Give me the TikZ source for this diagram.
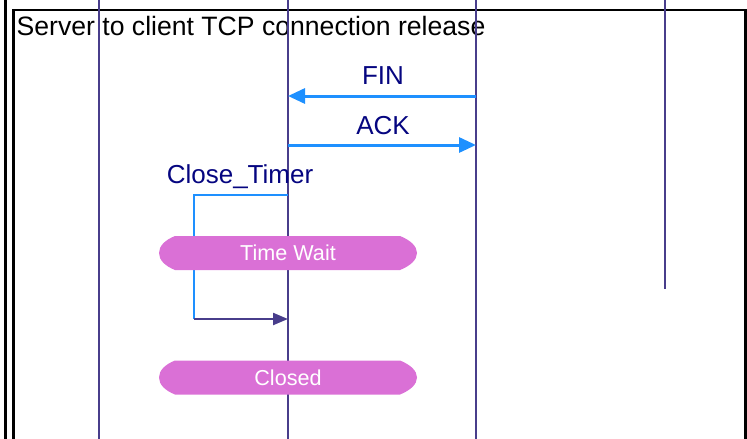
\documentclass[tikz,border=0pt]{standalone}
\usepackage{fontspec}
\setmainfont{Liberation Sans}
\usetikzlibrary{arrows.meta}
\definecolor{lifeblue}{RGB}{72,61,139}
\definecolor{msgblue}{RGB}{30,144,255}
\definecolor{labnavy}{RGB}{5,5,128}
\definecolor{stateorchid}{RGB}{218,112,214}
\begin{document}
\begin{tikzpicture}[x=1pt,y=-1pt,
  life/.style={lifeblue,line width=1.9pt},
  msg/.style={msgblue,line width=3pt,-{Triangle[length=17pt,width=15pt]}},
  lab/.style={labnavy,font=\fontsize{26}{28}\selectfont},
  statetxt/.style={white,font=\fontsize{21.6}{23}\selectfont}]
\useasboundingbox (0,0) rectangle (747,439);
% frame
\draw[line width=2.6pt] (5.5,0) -- (5.5,439);
\draw[line width=2.6pt] (13.5,439) -- (13.5,10) -- (745.5,10) -- (745.5,439);
\node[anchor=base west,inner sep=0pt,font=\fontsize{26.6}{28}\selectfont] (title) at (16.5,35) {Server to client TCP connection release};
% lifelines
\coordinate (l1top) at (99,0);  \coordinate (l1bot) at (99,439);
\coordinate (l2top) at (288,0); \coordinate (l2bot) at (288,439);
\coordinate (l3top) at (476,0); \coordinate (l3bot) at (476,439);
\coordinate (l4top) at (665,0); \coordinate (l4bot) at (665,289);
\draw[life] (l1top) -- (l1bot);
\draw[life] (l2top) -- (l2bot);
\draw[life] (l3top) -- (l3bot);
\draw[life] (l4top) -- (l4bot);
% messages
\coordinate (finA) at (476,96);  \coordinate (finB) at (288,96);
\coordinate (ackA) at (288,145); \coordinate (ackB) at (476,145);
\draw[msg] (finA) -- (finB);
\draw[msg] (ackA) -- (ackB);
\node[lab] (fin) at (383,76) {FIN};
\node[lab] (ack) at (383,126) {ACK};
% timer
\node[lab] (timer) at (240,177) {Close\_Timer};
\coordinate (tA) at (288,195); \coordinate (tB) at (194,195);
\coordinate (tC) at (194,319); \coordinate (tD) at (288,319);
\draw[msgblue,line width=2.2pt] (tA) -- (tB) -- (tC);
\draw[lifeblue,line width=2.2pt,-{Triangle[length=15pt,width=12pt]}] (tC) -- (tD);
% states
\fill[stateorchid] (175,236) -- (400,236) .. controls (410,240) and (417,246) .. (417,253)
  .. controls (417,260) and (410,266) .. (400,270) -- (175,270)
  .. controls (165,266) and (159,260) .. (159,253) .. controls (159,246) and (165,240) .. (175,236) -- cycle;
\node[statetxt] (timewait) at (288,253) {Time Wait};
\fill[stateorchid] (175,360.5) -- (400,360.5) .. controls (410,364.5) and (417,370.5) .. (417,377.5)
  .. controls (417,384.5) and (410,390.5) .. (400,394.5) -- (175,394.5)
  .. controls (165,390.5) and (159,384.5) .. (159,377.5) .. controls (159,370.5) and (165,364.5) .. (175,360.5) -- cycle;
\node[statetxt] (closed) at (288,377.5) {Closed};
\end{tikzpicture}
\end{document}
